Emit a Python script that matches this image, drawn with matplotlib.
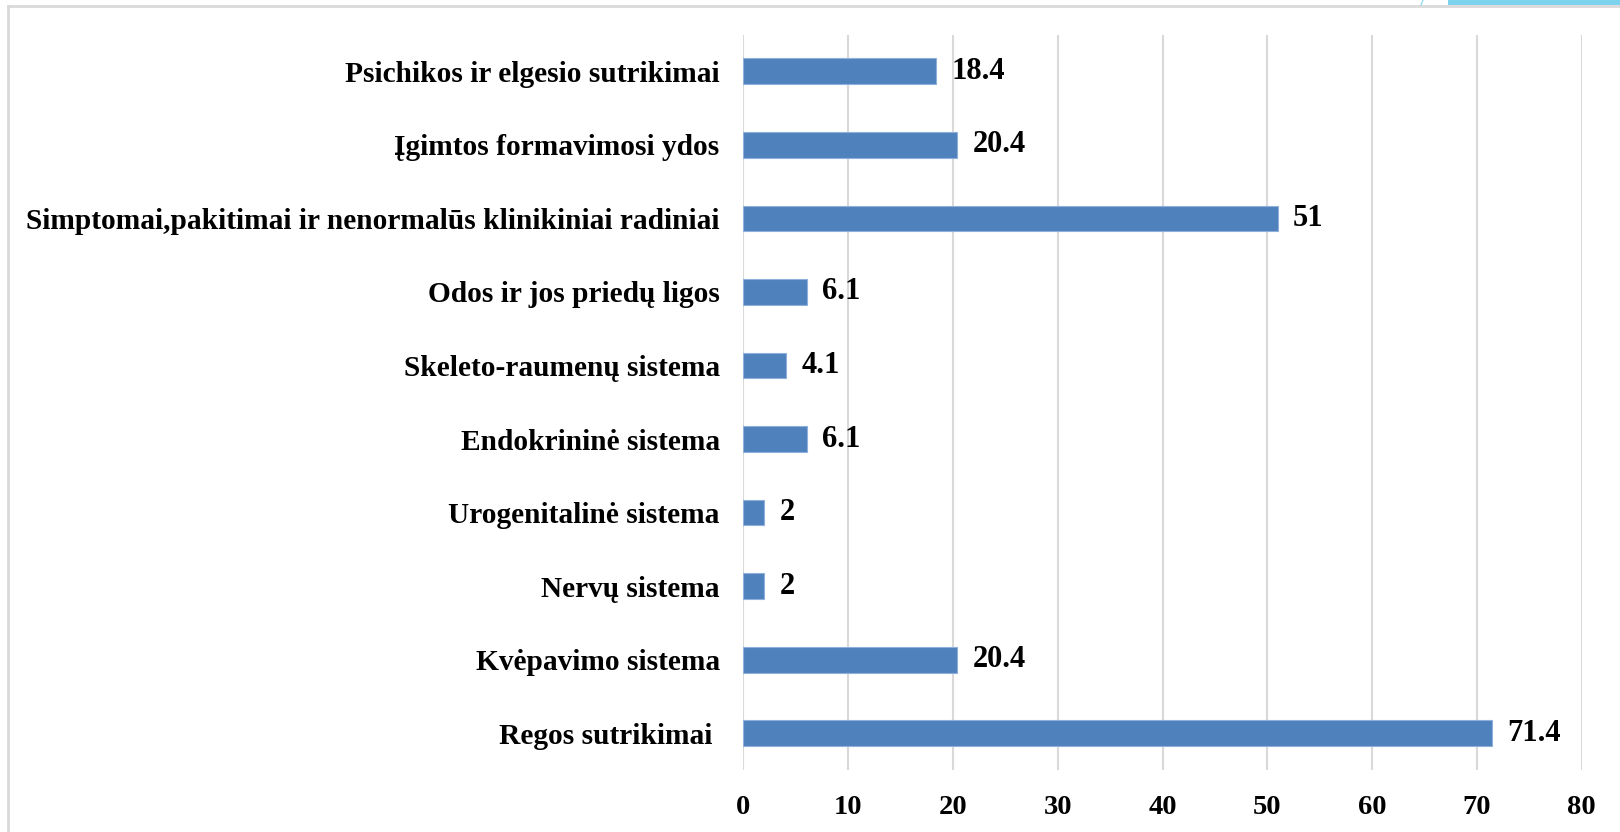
import numpy as np
import matplotlib
matplotlib.use('Agg')
import matplotlib.pyplot as plt
from matplotlib.patches import Rectangle
from matplotlib.lines import Line2D

# data, bottom to top
categories = ['Regos sutrikimai ', 'Kvėpavimo sistema', 'Nervų sistema', 'Urogenitalinė sistema',
              'Endokrininė sistema', 'Skeleto-raumenų sistema', 'Odos ir jos priedų ligos',
              'Simptomai,pakitimai ir nenormalūs klinikiniai radiniai', 'Įgimtos formavimosi ydos',
              'Psichikos ir elgesio sutrikimai']
values = [71.4, 20.4, 2, 2, 6.1, 4.1, 6.1, 51, 20.4, 18.4]
value_labels = ['71.4', '20.4', '2', '2', '6.1', '4.1', '6.1', '51', '20.4', '18.4']
x_ticks = [0, 10, 20, 30, 40, 50, 60, 70, 80]

plt.rcParams['font.family'] = ['Liberation Serif', 'DejaVu Serif']
plt.rcParams['font.weight'] = 'bold'

fig = plt.figure(figsize=(16.2, 8.32), dpi=100)
ax = fig.add_axes([0.4588, 0.0745, 0.5176, 0.884])

y = np.arange(len(categories))
ax.barh(y, values, height=0.35, color='#4F81BD', edgecolor='#8FB0DA', linewidth=0.8, zorder=3)

for yi, v, lab in zip(y, values, value_labels):
    ax.annotate(lab, (v, yi), xytext=(11, 0), textcoords='offset points',
                ha='left', va='center', fontsize=22, fontweight='bold')

ax.set_xlim(0, 80)
ax.set_ylim(-0.5, len(categories) - 0.5)
ax.set_xticks(x_ticks)
ax.set_yticks(y)
ax.set_yticklabels(categories, fontsize=21.2)
ax.tick_params(axis='both', length=0)
ax.tick_params(axis='x', labelsize=20.5, pad=18)
ax.tick_params(axis='y', pad=17)
for lbl in ax.get_xticklabels() + ax.get_yticklabels():
    lbl.set_fontweight('bold')

ax.grid(axis='x', color='#D9D9D9', linewidth=1.5, zorder=0)
ax.set_axisbelow(True)
for s in ax.spines.values():
    s.set_visible(False)

# frame around the chart area and the corner decoration
fig.add_artist(Line2D([8 / 1620, 8 / 1620], [0, 1 - 6 / 832], transform=fig.transFigure,
                      color='#D9D9D9', linewidth=2))
fig.add_artist(Line2D([8 / 1620, 1], [1 - 6 / 832, 1 - 6 / 832], transform=fig.transFigure,
                      color='#D9D9D9', linewidth=2))
fig.add_artist(Rectangle((1448 / 1620, 1 - 5 / 832), 172 / 1620, 5 / 832,
                         transform=fig.transFigure, color='#7DD3EE', linewidth=0))
fig.add_artist(Line2D([1421 / 1620, 1423 / 1620], [1 - 5 / 832, 1], transform=fig.transFigure,
                      color='#9ADDF2', linewidth=1))

fig.savefig('out.png', dpi=100)
